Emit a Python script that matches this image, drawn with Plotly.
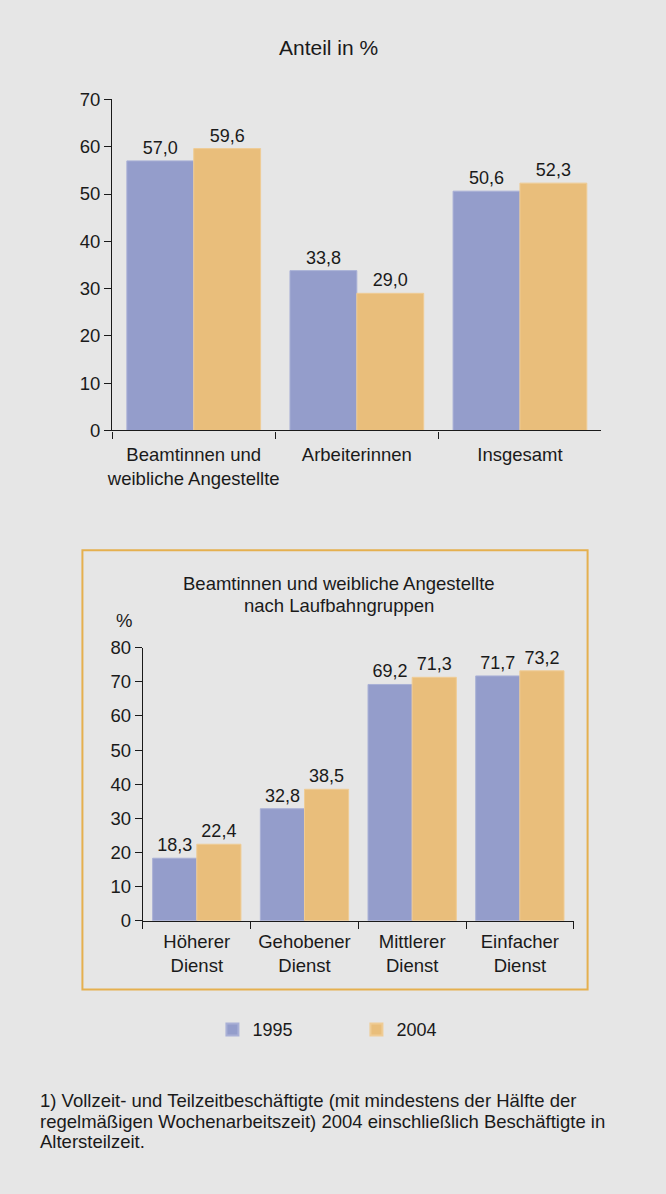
import plotly.graph_objects as go

# ---- data ----
top_categories = ["Beamtinnen und<br>weibliche Angestellte", "Arbeiterinnen", "Insgesamt"]
top_1995 = [57.0, 33.8, 50.6]
top_2004 = [59.6, 29.0, 52.3]

bottom_categories = ["Höherer<br>Dienst", "Gehobener<br>Dienst", "Mittlerer<br>Dienst", "Einfacher<br>Dienst"]
bottom_1995 = [18.3, 32.8, 69.2, 71.7]
bottom_2004 = [22.4, 38.5, 71.3, 73.2]

series_names = ["1995", "2004"]

title_top = "Anteil in %"
title_bottom_lines = ["Beamtinnen und weibliche Angestellte", "nach Laufbahngruppen"]
footnote_lines = [
    "1) Vollzeit- und Teilzeitbeschäftigte (mit mindestens der Hälfte der",
    "regelmäßigen Wochenarbeitszeit) 2004 einschließlich Beschäftigte in",
    "Altersteilzeit.",
]

# ---- styles ----
W, H = 666, 1194
BG = "#e6e6e6"
BLUE = "#949dcb"
ORANGE = "#e9be7b"
TXT = "#1a1a1a"
FONT = "Liberation Sans, Arial, Helvetica, sans-serif"
FS = 18.5


def px(x):
    return x / W


def py(y):
    return 1 - y / H


fig = go.Figure()

common = dict(texttemplate="%{y:.1f}", textposition="outside",
              textfont=dict(size=18, color=TXT, family=FONT), cliponaxis=False)

fig.add_trace(go.Bar(x=top_categories, y=top_1995, name=series_names[0],
                     marker=dict(color=BLUE, line=dict(color="#a9b0d6", width=1)),
                     xaxis="x", yaxis="y", legendgroup="a", **common))
fig.add_trace(go.Bar(x=top_categories, y=top_2004, name=series_names[1],
                     marker=dict(color=ORANGE, line=dict(color="#efcc95", width=1)),
                     xaxis="x", yaxis="y", legendgroup="b", **common))
fig.add_trace(go.Bar(x=bottom_categories, y=bottom_1995, name=series_names[0],
                     marker=dict(color=BLUE, line=dict(color="#a9b0d6", width=1)),
                     xaxis="x2", yaxis="y2", showlegend=False, legendgroup="a", **common))
fig.add_trace(go.Bar(x=bottom_categories, y=bottom_2004, name=series_names[1],
                     marker=dict(color=ORANGE, line=dict(color="#efcc95", width=1)),
                     xaxis="x2", yaxis="y2", showlegend=False, legendgroup="b", **common))

axis_common = dict(showline=True, linecolor=TXT, linewidth=1.3, ticks="outside",
                   tickcolor=TXT, tickwidth=1.3, ticklen=7, showgrid=False, zeroline=False,
                   tickfont=dict(size=FS, color=TXT, family=FONT))

fig.update_layout(
    width=W, height=H,
    margin=dict(l=0, r=0, t=0, b=0),
    paper_bgcolor=BG, plot_bgcolor=BG,
    barmode="group", bargap=0.18, bargroupgap=0,
    separators=",.",
    font=dict(family=FONT, color=TXT, size=FS),
    xaxis=dict(domain=[px(108), px(601)], anchor="y", tickson="boundaries", tickangle=0,
               ticklabelstandoff=7, **axis_common),
    yaxis=dict(domain=[py(427), py(90)], anchor="x", range=[0, 70], dtick=10, **axis_common),
    xaxis2=dict(domain=[px(139), px(573)], anchor="y2", tickson="boundaries", tickangle=0,
                ticklabelstandoff=4, **axis_common),
    yaxis2=dict(domain=[py(926), py(648)], anchor="x2", range=[0, 80], dtick=10, **axis_common),
    legend=dict(orientation="h", x=px(209), y=py(1037), xanchor="left", yanchor="middle",
                entrywidth=99, entrywidthmode="pixels", bgcolor="rgba(0,0,0,0)",
                font=dict(size=18, color=TXT, family=FONT), itemsizing="constant"),
)

# bottom chart framing box
fig.add_shape(type="rect", xref="paper", yref="paper",
              x0=px(78), x1=px(587), y0=py(996), y1=py(549),
              line=dict(color="#e5b04f", width=2), fillcolor="rgba(0,0,0,0)", layer="below")


def note(text, x, y, size, anchor="center"):
    fig.add_annotation(text=text, x=px(x), y=py(y), xref="paper", yref="paper",
                       showarrow=False, xanchor=anchor, yanchor="middle",
                       font=dict(size=size, color=TXT, family=FONT))


note(title_top, 326, 37, 21)
note(title_bottom_lines[0], 337, 583, FS)
note(title_bottom_lines[1], 337, 605, FS)
note("%", 120, 620, FS)
for i, line in enumerate(footnote_lines):
    note(line, 33, 1109 + 21 * i, FS, anchor="left")

fig.write_html("out.html")
